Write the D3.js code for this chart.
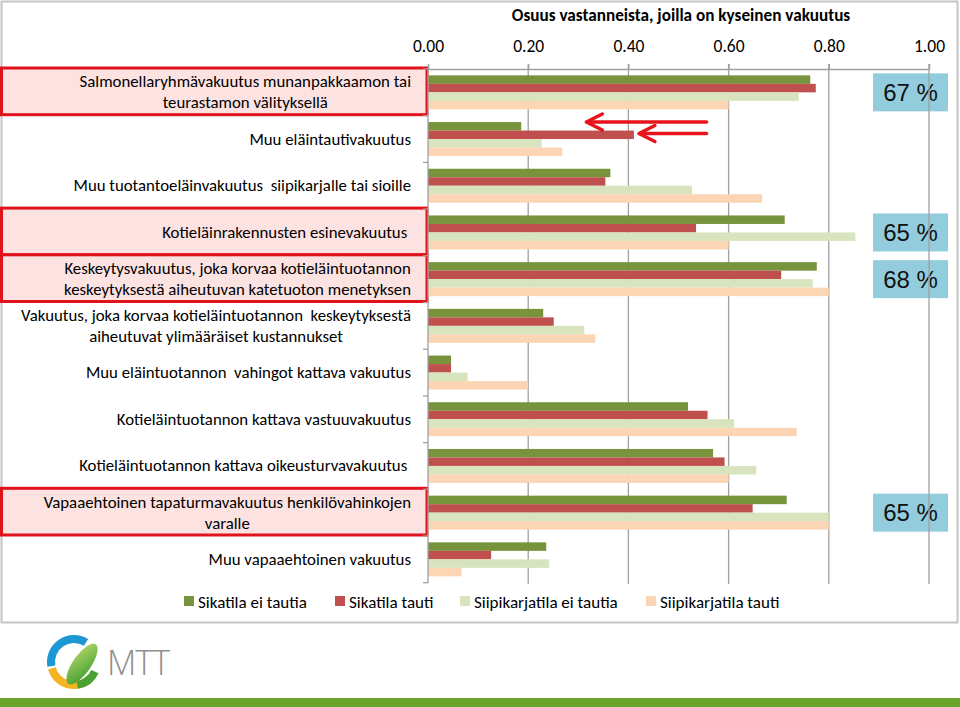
<!DOCTYPE html>
<html><head><meta charset="utf-8">
<script src="https://cdn.jsdelivr.net/npm/d3@7"></script>
<style>body{margin:0;background:#fff}svg{display:block}</style>
</head><body>
<svg id="c" width="960" height="707"></svg>
<script>
const categories = [
  ["Salmonellaryhmävakuutus munanpakkaamon tai", "teurastamon välityksellä"],
  ["Muu eläintautivakuutus"],
  ["Muu tuotantoeläinvakuutus  siipikarjalle tai sioille"],
  ["Kotieläinrakennusten esinevakuutus "],
  ["Keskeytysvakuutus, joka korvaa kotieläintuotannon", "keskeytyksestä aiheutuvan katetuoton menetyksen"],
  ["Vakuutus, joka korvaa kotieläintuotannon  keskeytyksestä", "aiheutuvat ylimääräiset kustannukset"],
  ["Muu eläintuotannon  vahingot kattava vakuutus"],
  ["Kotieläintuotannon kattava vastuuvakuutus"],
  ["Kotieläintuotannon kattava oikeusturvavakuutus "],
  ["Vapaaehtoinen tapaturmavakuutus henkilövahinkojen", "varalle"],
  ["Muu vapaaehtoinen vakuutus"]
];
const seriesNames = ["Sikatila ei tautia", "Sikatila tauti", "Siipikarjatila ei tautia", "Siipikarjatila tauti"];
const sikaEiTautia   = [0.763, 0.186, 0.364, 0.712, 0.776, 0.230, 0.046, 0.519, 0.569, 0.716, 0.236];
const sikaTauti      = [0.774, 0.411, 0.354, 0.535, 0.705, 0.251, 0.046, 0.558, 0.592, 0.648, 0.126];
const siipiEiTautia  = [0.740, 0.227, 0.527, 0.853, 0.768, 0.312, 0.079, 0.611, 0.655, 0.800, 0.242];
const siipiTauti     = [0.600, 0.268, 0.667, 0.600, 0.800, 0.334, 0.200, 0.736, 0.600, 0.800, 0.067];
const xTicks = [0, 0.2, 0.4, 0.6, 0.8, 1.0];
const highlighted = [0, 3, 4, 9];
const callouts = [{cat: 0, text: "67 %"}, {cat: 3, text: "65 %"}, {cat: 4, text: "68 %"}, {cat: 9, text: "65 %"}];
const arrowTargets = [{cat: 1, series: 0, from: 0.556, to: 0.316}, {cat: 1, series: 1, from: 0.556, to: 0.421}];
const colors = ["#77933C", "#C0504D", "#D7E4BD", "#FCD5B5"];
const title = "Osuus vastanneista, joilla on kyseinen vakuutus";

const allSeries = [sikaEiTautia, sikaTauti, siipiEiTautia, siipiTauti];
const svg = d3.select("#c");
const labelFont = "Carlito, Lato, sans-serif";

const x = d3.scaleLinear().domain([0, 1]).range([428, 929]);
const y = d3.scaleBand().domain(d3.range(categories.length)).range([69, 582.7]).paddingInner(0.272).paddingOuter(0.136);
const yFull = d3.scaleBand().domain(d3.range(categories.length)).range([69, 582.7]);
const ySub = d3.scaleBand().domain(d3.range(4)).range([0, y.bandwidth()]);

// outer chart border
svg.append("rect").attr("x", 1.5).attr("y", 1.5).attr("width", 956).attr("height", 621)
  .attr("fill", "#fff").attr("stroke", "#c4c4c4").attr("stroke-width", 2);

// highlight boxes behind labels
svg.append("g").selectAll("rect").data(highlighted).join("rect")
  .attr("x", 1.5).attr("y", d => yFull(d) - 1).attr("width", 425.5).attr("height", yFull.bandwidth())
  .attr("fill", "#fde2e2").attr("stroke", "#e0121b").attr("stroke-width", 3);

// callout boxes
const cg = svg.append("g");
callouts.forEach(c => {
  const cy = yFull(c.cat) + yFull.bandwidth() / 2;
  cg.append("rect").attr("x", 873).attr("y", cy - 19).attr("width", 75).attr("height", 38).attr("fill", "#93CDDD");
  cg.append("text").attr("x", 910.5).attr("y", cy + 8.5).attr("text-anchor", "middle")
    .attr("font-family", "'Liberation Sans', Arial, sans-serif").attr("font-size", 24).attr("fill", "#111").text(c.text);
});

// gridlines
svg.append("g").selectAll("line").data(xTicks.filter(t => t > 0)).join("line")
  .attr("x1", d => x(d)).attr("x2", d => x(d)).attr("y1", 64).attr("y2", 584)
  .attr("stroke", "#a0a0a0").attr("stroke-width", 1.3);

// bars
const bars = svg.append("g");
allSeries.forEach((vals, s) => {
  bars.selectAll(null).data(vals).join("rect")
    .attr("x", x(0)).attr("y", (d, i) => y(i) + ySub(s))
    .attr("width", d => x(d) - x(0)).attr("height", ySub.bandwidth())
    .attr("fill", colors[s]);
});

// top axis
const topAxis = d3.axisTop(x).tickValues(xTicks).tickFormat(d3.format(".2f")).tickSize(5).tickPadding(12);
const ax = svg.append("g").attr("transform", "translate(0,69)").call(topAxis);
ax.select(".domain").attr("stroke", "#a0a0a0").attr("stroke-width", 1.3);
ax.selectAll(".tick line").attr("stroke", "#a0a0a0").attr("stroke-width", 1.3);
ax.selectAll(".tick text").attr("font-family", labelFont).attr("font-size", 17.5).attr("fill", "#000");

// left axis line + ticks at category boundaries
svg.append("line").attr("x1", x(0)).attr("x2", x(0)).attr("y1", 69).attr("y2", 583)
  .attr("stroke", "#a0a0a0").attr("stroke-width", 1.3);
svg.append("g").selectAll("line").data(d3.range(categories.length + 1)).join("line")
  .attr("x1", x(0) - 5).attr("x2", x(0))
  .attr("y1", i => i < categories.length ? yFull(i) : yFull(categories.length - 1) + yFull.bandwidth())
  .attr("y2", i => i < categories.length ? yFull(i) : yFull(categories.length - 1) + yFull.bandwidth())
  .attr("stroke", "#a0a0a0").attr("stroke-width", 1.3);

// category labels
const lg = svg.append("g");
categories.forEach((lines, i) => {
  const cy = yFull(i) + yFull.bandwidth() / 2;
  const texts = lines.map((t, k) => lg.append("text")
    .attr("font-family", labelFont).attr("font-size", 16.8).attr("fill", "#000")
    .attr("xml:space", "preserve").style("white-space", "pre")
    .attr("y", cy + (k - (lines.length - 1) / 2) * 21 + 5.5).text(t));
  const maxW = d3.max(texts, t => t.node().getComputedTextLength());
  const center = 411 - maxW / 2;
  texts.forEach(t => t.attr("x", center).attr("text-anchor", "middle"));
});

// title
svg.append("text").attr("x", 681).attr("y", 21).attr("text-anchor", "middle")
  .attr("font-family", labelFont).attr("font-weight", "bold").attr("font-size", 17.2).text(title);

// arrows
const arrowG = svg.append("g").attr("stroke", "#e8141c").attr("stroke-width", 3.5).attr("fill", "none")
  .attr("stroke-linecap", "round").attr("stroke-linejoin", "round");
arrowTargets.forEach(a => {
  const ay = y(a.cat) + ySub(a.series) + (a.series === 0 ? 0 : 3);
  const x1 = x(a.from), x2 = x(a.to);
  arrowG.append("line").attr("x1", x1).attr("x2", x2 + 2).attr("y1", ay).attr("y2", ay);
  arrowG.append("path").attr("d", `M${x2 + 16},${ay - 8} L${x2},${ay} L${x2 + 16},${ay + 8}`);
});

// legend
const legX = [184, 335, 460, 646];
const leg = svg.append("g");
seriesNames.forEach((n, i) => {
  leg.append("rect").attr("x", legX[i]).attr("y", 596).attr("width", 10).attr("height", 10).attr("fill", colors[i]);
  leg.append("text").attr("x", legX[i] + 14).attr("y", 607.5).attr("font-family", labelFont).attr("font-size", 17).text(n);
});

// MTT logo
const logo = svg.append("g").attr("transform", "translate(74,662)");
const defs = svg.append("defs");
const gr = defs.append("linearGradient").attr("id", "leaf").attr("x1", "0").attr("y1", "1").attr("x2", "1").attr("y2", "0");
gr.append("stop").attr("offset", "0").attr("stop-color", "#3f9b2f");
gr.append("stop").attr("offset", "1").attr("stop-color", "#b5d96a");
const arc = d3.arc();
logo.append("path").attr("d", arc({innerRadius: 19, outerRadius: 27, startAngle: -1.75, endAngle: 0.55})).attr("fill", "#1e98d5");
logo.append("path").attr("d", arc({innerRadius: 19, outerRadius: 27, startAngle: -3.95, endAngle: -1.85})).attr("fill", "#f4b321");
logo.append("path").attr("d", arc({innerRadius: 19, outerRadius: 27, startAngle: 2.0, endAngle: 3.0})).attr("fill", "#4aa235");
logo.append("ellipse").attr("cx", 8).attr("cy", 2).attr("rx", 24).attr("ry", 9)
  .attr("transform", "rotate(-55,8,2)").attr("fill", "url(#leaf)");
svg.append("text").attr("x", 107).attr("y", 675).attr("font-family", "'Open Sans', sans-serif")
  .attr("font-weight", 300).attr("font-size", 34).attr("letter-spacing", -1).attr("fill", "#8f8f8f").text("MTT");

// bottom green bar
svg.append("rect").attr("x", 0).attr("y", 698).attr("width", 960).attr("height", 9).attr("fill", "#6aa32c");
</script>
</body></html>
